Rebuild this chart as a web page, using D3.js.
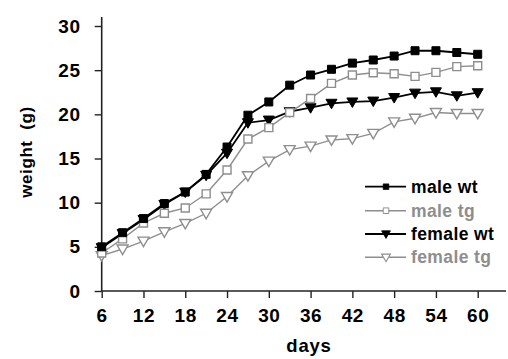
<!DOCTYPE html>
<html>
<head>
<meta charset="utf-8">
<script src="https://cdn.jsdelivr.net/npm/d3@7"></script>
<style>
  body { margin: 0; background: #fff; }
  text { font-family: "Liberation Sans", Arial, sans-serif; font-weight: bold; }
</style>
</head>
<body>
<svg id="chart" width="508" height="359"></svg>
<script>
// days are sampled every 3 days from 6 to 60
const days = [6, 9, 12, 15, 18, 21, 24, 27, 30, 33, 36, 39, 42, 45, 48, 51, 54, 57, 60]
const maleWt = [5.0, 6.6, 8.2, 9.9, 11.2, 13.2, 16.3, 19.9, 21.4, 23.3, 24.45, 25.1, 25.8, 26.15, 26.6, 27.2, 27.2, 27.0, 26.8]
const maleTg = [4.3, 5.9, 7.7, 8.8, 9.4, 11.0, 13.7, 17.2, 18.5, 20.2, 21.8, 23.5, 24.45, 24.7, 24.6, 24.3, 24.75, 25.4, 25.5]
const femaleWt = [4.9, 6.5, 8.1, 9.8, 11.2, 13.1, 15.6, 19.05, 19.35, 20.3, 20.75, 21.25, 21.4, 21.5, 21.9, 22.4, 22.55, 22.1, 22.45]
const femaleTg = [4.0, 4.75, 5.65, 6.7, 7.65, 8.8, 10.7, 13.05, 14.7, 16.0, 16.4, 17.1, 17.25, 17.85, 19.15, 19.55, 20.2, 20.1, 20.1]
const xTicks = [6, 12, 18, 24, 30, 36, 42, 48, 54, 60]
const yTicks = [0, 5, 10, 15, 20, 25, 30]

const black = '#000'
const gray = '#8e8e8e'

const series = [
	{ name: 'male wt', values: maleWt, color: black, shape: 'square', filled: true },
	{ name: 'male tg', values: maleTg, color: gray, shape: 'square', filled: false },
	{ name: 'female wt', values: femaleWt, color: black, shape: 'tri', filled: true },
	{ name: 'female tg', values: femaleTg, color: gray, shape: 'tri', filled: false },
]

const svg = d3.select('#chart')

const x = d3.scaleLinear().domain([6, 60]).range([101.7, 477.7])
const y = d3.scaleLinear().domain([0, 30]).range([291, 26])

// axes
const axisColor = '#222'
const xAxis = svg.append('g')
	.attr('transform', 'translate(0,291)')
	.call(d3.axisBottom(x).tickValues(xTicks).tickSize(7).tickPadding(11).tickSizeOuter(0))
xAxis.select('.domain').remove()
xAxis.append('line').attr('x1', x(6)).attr('x2', 506).attr('stroke', axisColor).attr('stroke-width', 1.6)

const yAxis = svg.append('g')
	.attr('transform', 'translate(' + x(6) + ',0)')
	.call(d3.axisLeft(y).tickValues(yTicks).tickSize(7).tickPadding(14).tickSizeOuter(0))
yAxis.select('.domain').remove()
yAxis.append('line').attr('y1', 291).attr('y2', 17).attr('stroke', axisColor).attr('stroke-width', 1.6)

svg.selectAll('.tick line').attr('stroke', axisColor).attr('stroke-width', 1.4)
svg.selectAll('.tick text')
	.attr('fill', '#000')
	.style('font-size', '19px')
	.style('letter-spacing', '0.6px')

// axis titles
svg.append('text')
	.attr('x', 309).attr('y', 352)
	.attr('text-anchor', 'middle')
	.style('font-size', '18.5px')
	.style('letter-spacing', '0.8px')
	.text('days')

svg.append('text')
	.attr('transform', 'translate(32,152)rotate(-90)')
	.attr('text-anchor', 'middle')
	.style('font-size', '17px')
	.style('letter-spacing', '0.6px')
	.style('white-space', 'pre')
	.text('weight  (g)')

const line = d3.line()
	.x((d, i) => x(days[i]))
	.y(d => y(d))

const squarePath = d3.symbol().type(d3.symbolSquare).size(64)
const triPath = 'M-5.5,-4 L5.5,-4 L0,5.5 Z'

function drawMarker(g, s) {
	const m = s.shape === 'square'
		? g.append('path').attr('d', squarePath())
		: g.append('path').attr('d', triPath)
	m.attr('fill', s.filled ? s.color : '#fff')
		.attr('stroke', s.color)
		.attr('stroke-width', s.filled ? 1 : 1.4)
	return m
}

// draw back to front
series.slice().reverse().forEach(s => {
	const g = svg.append('g')
	g.append('path')
		.datum(s.values)
		.attr('d', line)
		.attr('fill', 'none')
		.attr('stroke', s.color)
		.attr('stroke-width', s.filled ? 1.8 : 1.4)
	s.values.forEach((v, i) => {
		const mg = g.append('g').attr('transform', 'translate(' + x(days[i]) + ',' + y(v) + ')')
		drawMarker(mg, s)
	})
})

// legend
const legendY = [186.7, 210.7, 234, 257.3]
series.forEach((s, i) => {
	const g = svg.append('g').attr('transform', 'translate(0,' + legendY[i] + ')')
	g.append('line')
		.attr('x1', 365).attr('x2', 406)
		.attr('stroke', s.color)
		.attr('stroke-width', s.filled ? 1.8 : 1.4)
	const mg = g.append('g').attr('transform', 'translate(386,0)' + (s.shape === 'square' ? 'scale(0.7)' : 'scale(0.8)'))
	drawMarker(mg, s)
	g.append('text')
		.attr('x', 411).attr('y', 0)
		.attr('dy', '0.35em')
		.attr('fill', s.filled ? '#000' : '#8e8e8e')
		.style('font-size', '17.5px')
		.style('letter-spacing', '0.4px')
		.text(s.name)
})
</script>
</body>
</html>
